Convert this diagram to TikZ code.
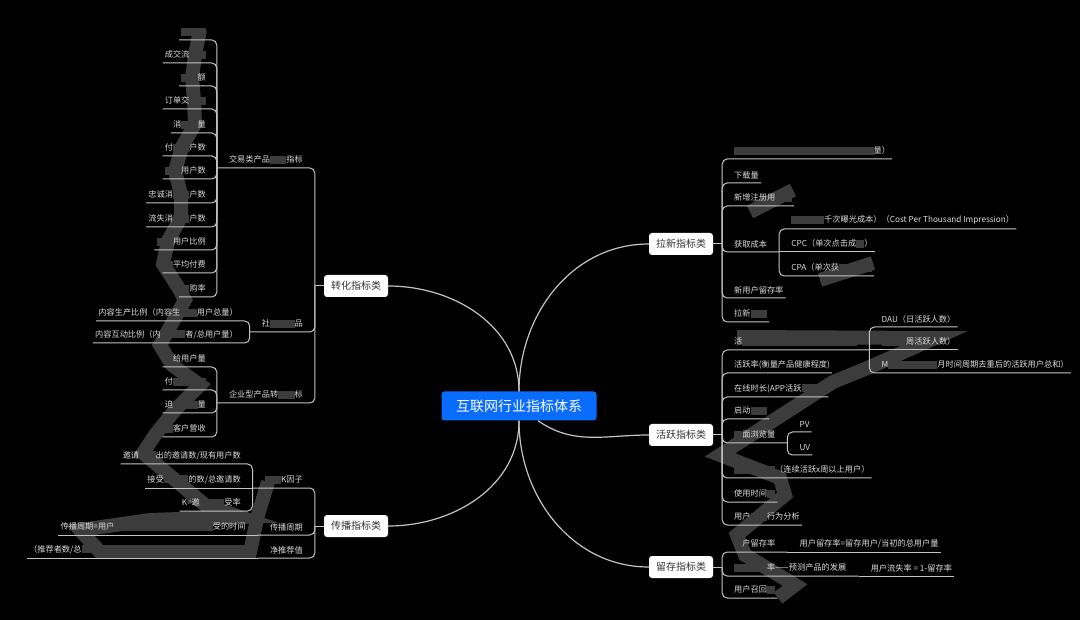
\documentclass[tikz,border=0pt]{standalone}
\usepackage{fontspec}
\setmainfont{Noto Sans CJK SC}
\usetikzlibrary{positioning,calc}
\usepackage{xcolor}
\definecolor{rootblue}{HTML}{0A6CFF}
\definecolor{linec}{HTML}{C4C4C4}
\definecolor{leaftext}{HTML}{DCDCDC}
\definecolor{mosc}{HTML}{3C3C3C}
% masked (pixelated) part of a label
\newcommand\mgap[1]{{\color{mosc}\rule[-0.12em]{#1em}{1.0em}}}

\begin{document}
\begin{tikzpicture}[
    x=1pt, y=1pt,
    root/.style={fill=rootblue, rounded corners=3pt, text=white, font=\fontsize{14}{16}\selectfont, minimum width=155pt, minimum height=29pt, inner sep=0pt},
    topic/.style={fill=white, rounded corners=3pt, text=black!80, font=\fontsize{10}{12}\selectfont, minimum width=64pt, minimum height=22pt, inner sep=0pt},
    sub/.style={text=leaftext, font=\fontsize{8.2}{10}\selectfont, inner xsep=12pt, inner ysep=4pt},
    leaf/.style={sub, inner xsep=2pt},
    link/.style={draw=linec, line width=1pt, rounded corners=5pt},
    curve/.style={draw=linec, line width=1.2pt},
    mosaic/.style={draw=mosc, line width=14pt}
]
\useasboundingbox (0,0) rectangle (1080,-620);
\fill[black] (0,0) rectangle (1080,-620);

% pixelated bands
\draw[mosaic] (200,-30) -- (195,-55) -- (192,-78) -- (194,-100) -- (195,-124) -- (182,-147) -- (175,-171) -- (181,-194) -- (181,-217) -- (168,-241) -- (163,-264) -- (178,-287) -- (185,-300) -- (160,-345) -- (172,-365) -- (200,-385) -- (175,-410) -- (155,-435) -- (143,-453) -- (205,-505) -- (240,-517) -- (150,-520) -- (80,-530) -- (100,-552) -- (250,-552) -- (258,-515) -- (268,-482);
\draw[mosaic] (750,-212) -- (793,-190);
\draw[mosaic] (820,-280) -- (873,-263);
\draw[mosaic] (737,-337) -- (935,-338) -- (870,-367) -- (833,-382) -- (720,-455) -- (780,-478) -- (785,-495) -- (737,-535) -- (745,-555) -- (795,-585) -- (778,-598);

% main topics
\node[root] (ct) at (519,-406) {互联网行业指标体系};
\node[topic] (zh) at (356,-286) {转化指标类};
\node[topic] (cb) at (356,-526) {传播指标类};
\node[topic] (lx) at (681,-244) {拉新指标类};
\node[topic] (hy) at (681,-435) {活跃指标类};
\node[topic] (lc) at (681,-567) {留存指标类};

\draw[curve] (zh.east) to[out=0,in=90] (ct.north);
\draw[curve] (lx.west) to[out=180,in=90] (ct.north);
\draw[curve] (cb.east) to[out=0,in=-90] (ct.south);
\draw[curve] (lc.west) to[out=180,in=-90] (ct.south);
\draw[curve] ($(ct.south)+(19,0)$) to[out=-35,in=180] (hy.west);

% 转化指标类
\coordinate (zh-s) at ($(zh.west)+(-9,0)$);
\draw[link] (zh.west) -- (zh-s);
\node[sub, anchor=south east] (jy) at (315,-168) {交易类产品\mgap{2}指标};
\node[sub, anchor=south east] (sj) at (315,-332) {社\mgap{3}品};
\node[sub, anchor=south east] (qy) at (315,-403) {企业型产品转\mgap{2}标};
\foreach \c in {jy,sj,qy} \draw[link] (zh-s) |- (\c.south west);

\node[leaf, anchor=south east] (jy1) at (208,-40) {\mgap{3}};
\node[leaf, anchor=south east] (jy2) at (208,-63) {成交流\mgap{2}};
\node[leaf, anchor=south east] (jy3) at (208,-86) {\mgap{2}额};
\node[leaf, anchor=south east] (jy4) at (208,-109) {订单交\mgap{2}};
\node[leaf, anchor=south east] (jy5) at (208,-133) {消\mgap{2}量};
\node[leaf, anchor=south east] (jy6) at (208,-156) {付\mgap{2}户数};
\node[leaf, anchor=south east] (jy7) at (208,-179) {\mgap{2}用户数};
\node[leaf, anchor=south east] (jy8) at (208,-203) {忠诚消\mgap{2}户数};
\node[leaf, anchor=south east] (jy9) at (208,-227) {流失消\mgap{2}户数};
\node[leaf, anchor=south east] (jy10) at (208,-250) {\mgap{2}用户比例};
\node[leaf, anchor=south east] (jy11) at (208,-273) {\mgap{1}平均付费};
\node[leaf, anchor=south east] (jy12) at (208,-297) {\mgap{1}购率};
\foreach \i in {1,...,12} \draw[link] (jy.south west) |- (jy\i.south west);

\node[leaf, anchor=south east] (sj1) at (240,-321) {内容生产比例（内容生\mgap{2}用户总量）};
\node[leaf, anchor=south east] (sj2) at (240,-343) {内容互动比例（内\mgap{3}者/总用户量）};
\foreach \i in {1,2} \draw[link] (sj.south west) |- (sj\i.south west);

\node[leaf, anchor=south east] (qy1) at (208,-367) {\mgap{1}给用户量};
\node[leaf, anchor=south east] (qy2) at (208,-390) {付\mgap{4}};
\node[leaf, anchor=south east] (qy3) at (208,-413) {迫\mgap{3}量};
\node[leaf, anchor=south east] (qy4) at (208,-437) {\mgap{1}客户营收};
\foreach \i in {1,...,4} \draw[link] (qy.south west) |- (qy\i.south west);

% 传播指标类
\coordinate (cb-s) at ($(cb.west)+(-9,0)$);
\draw[link] (cb.west) -- (cb-s);
\node[sub, anchor=south east] (kf) at (315,-488) {\mgap{2}K因子};
\node[sub, anchor=south east] (zq) at (315,-535) {传播周期};
\node[sub, anchor=south east] (jt) at (315,-558) {净推荐值};
\foreach \c in {kf,zq,jt} \draw[link] (cb-s) |- (\c.south west);

\node[leaf, anchor=south east] (kf1) at (243,-464) {邀请\mgap{2}出的邀请数/现有用户数};
\node[leaf, anchor=south east] (kf2) at (243,-488) {接受\mgap{3}的数/总邀请数};
\node[leaf, anchor=south east] (kf3) at (243,-511) {K=邀\mgap{3}受率};
\draw[link] (kf.south west) |- (kf1.south west);
\draw[link] (kf.south west) -- (kf2.south west);
\draw[link] (kf.south west) |- (kf3.south west);

\node[leaf, anchor=south east] (zq1) at ($(zq.south west)+(-10,0)$) {传播周期=用户\mgap{12}受的时间};
\draw[link] (zq.south west) -- (zq1.south west);
\node[leaf, anchor=south east] (jt1) at ($(jt.south west)+(-10,0)$) {（推荐者数/总\mgap{20}};
\draw[link] (jt.south west) -- (jt1.south west);

% 拉新指标类
\coordinate (lx-s) at ($(lx.east)+(9,0)$);
\draw[link] (lx.east) -- (lx-s);
\node[leaf, anchor=south west] (lx1) at (732,-159) {\mgap{17}量）};
\node[leaf, anchor=south west] (lx2) at (732,-183) {下载量};
\node[leaf, anchor=south west] (lx3) at (732,-206) {新增注册用\mgap{2}};
\node[sub, anchor=south west] (hq) at (722,-252) {获取成本};
\node[leaf, anchor=south west] (lx5) at (732,-298) {新用户留存率};
\node[leaf, anchor=south west] (lx6) at (732,-322) {拉新\mgap{2}};
\foreach \c in {lx1,lx2,lx3,hq,lx5,lx6} \draw[link] (lx-s) |- (\c.south east);

\node[leaf, anchor=south west] (hq1) at ($(hq.south east)+(10,23)$) {\mgap{4}千次曝光成本）（Cost Per Thousand Impression）};
\node[leaf, anchor=south west] (hq2) at ($(hq.south east)+(10,0)$) {CPC（单次点击成\mgap{1}）};
\node[leaf, anchor=south west] (hq3) at ($(hq.south east)+(10,-24)$) {CPA（单次获\mgap{4}};
\draw[link] (hq.south east) |- (hq1.south east);
\draw[link] (hq.south east) -- (hq2.south east);
\draw[link] (hq.south east) |- (hq3.south east);

% 活跃指标类
\coordinate (hy-s) at ($(hy.east)+(9,0)$);
\draw[link] (hy.east) -- (hy-s);
\node[sub, anchor=south west] (hr) at (722,-350) {活\mgap{14}};
\node[leaf, anchor=south west] (hy2) at (732,-373) {活跃率(衡量产品健康程度)};
\node[leaf, anchor=south west] (hy3) at (732,-397) {在线时长(APP活跃\mgap{3}};
\node[leaf, anchor=south west] (hy4) at (732,-419) {启动\mgap{2}};
\node[sub, anchor=south west] (ym) at (722,-443) {\mgap{1}面浏览量};
\node[leaf, anchor=south west] (hy6) at (732,-478) {\mgap{5}（连续活跃x周以上用户）};
\node[leaf, anchor=south west] (hy7) at (732,-502) {使用时间\mgap{1}};
\node[leaf, anchor=south west] (hy8) at (732,-525) {用户\mgap{2}行为分析};
\foreach \c in {hr,hy2,hy3,hy4,ym,hy6,hy7,hy8} \draw[link] (hy-s) |- (\c.south east);

\node[leaf, anchor=south west] (hr1) at ($(hr.south east)+(10,23)$) {DAU（日活跃人数）};
\node[leaf, anchor=south west] (hr2) at ($(hr.south east)+(10,0)$) {\mgap{3}周活跃人数）};
\node[leaf, anchor=south west] (hr3) at ($(hr.south east)+(10,-23)$) {M\mgap{6}月时间周期去重后的活跃用户总和）};
\draw[link] (hr.south east) |- (hr1.south east);
\draw[link] (hr.south east) -- (hr2.south east);
\draw[link] (hr.south east) |- (hr3.south east);

\node[leaf, anchor=south west] (pv) at ($(ym.south east)+(10,11)$) {PV};
\node[leaf, anchor=south west] (uv) at ($(ym.south east)+(10,-12)$) {UV};
\foreach \c in {pv,uv} \draw[link] (ym.south east) |- (\c.south east);

% 留存指标类
\coordinate (lc-s) at ($(lc.east)+(9,0)$);
\draw[link] (lc.east) -- (lc-s);
\node[sub, anchor=south west] (ul) at (722,-552) {\mgap{1}户留存率};
\node[sub, anchor=south west] (ll) at (722,-576) {\mgap{4}率——预测产品的发展};
\node[leaf, anchor=south west] (lc3) at (732,-598) {用户召回\mgap{1}};
\foreach \c in {ul,ll,lc3} \draw[link] (lc-s) |- (\c.south east);

\node[leaf, anchor=south west] (ul1) at ($(ul.south east)+(10,0)$) {用户留存率=留存用户/当初的总用户量};
\draw[link] (ul.south east) -- (ul1.south east);
\node[leaf, anchor=south west] (ll1) at ($(ll.south east)+(10,0)$) {用户流失率 = 1-留存率};
\draw[link] (ll.south east) -- (ll1.south east);
\end{tikzpicture}
\end{document}
